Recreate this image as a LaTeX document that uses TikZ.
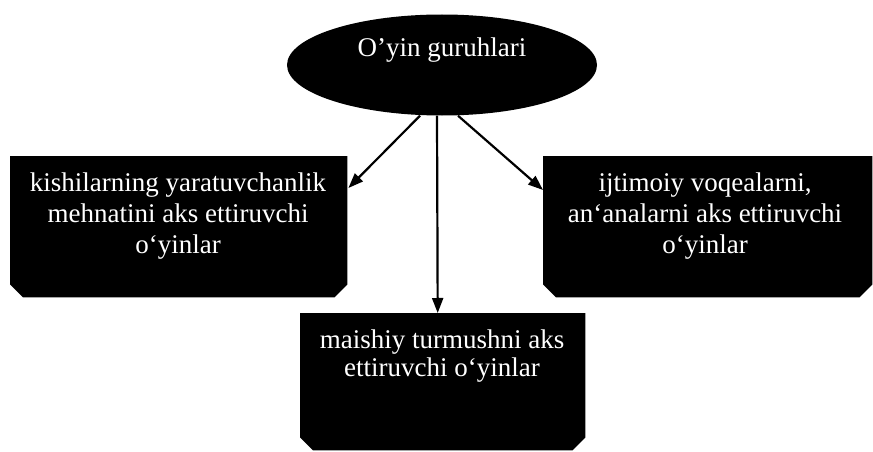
\documentclass[tikz,border=0pt]{standalone}
\usepackage{fontspec}
\setmainfont{Liberation Serif}
\usetikzlibrary{shapes.geometric,arrows.meta}
\tikzset{
  blackbox/.style={rectangle, inner sep=0pt, anchor=north west},
  boxtext/.style={text=white, align=center, font=\fontsize{27}{31}\selectfont, inner sep=0pt},
  arr/.style={draw=black, line width=2.2pt, -{Triangle[length=15pt,width=11pt]}}
}
\newcommand{\chamferfill}[1]{%
  \fill[black] (#1.north west) -- (#1.north east) -- ([yshift=13pt]#1.south east)
    -- ([xshift=-13pt]#1.south east) -- ([xshift=13pt]#1.south west)
    -- ([yshift=13pt]#1.south west) -- cycle;}
\begin{document}
\begin{tikzpicture}[x=1pt,y=-1pt]
\useasboundingbox[fill=white] (0,0) rectangle (873,452);
\node[ellipse, fill=black, minimum width=310pt, minimum height=101pt, inner sep=0pt] (top) at (442,65) {};
\node[boxtext] (toptext) at (442,50) {O’yin guruhlari};
\node[blackbox, minimum width=337pt, minimum height=141pt] (left) at (10,156) {};
\chamferfill{left}
\node[boxtext] (lefttext) at (178,216) {kishilarning yaratuvchanlik\\mehnatini aks ettiruvchi\\o`yinlar};
\node[blackbox, minimum width=329pt, minimum height=141pt] (right) at (543,156) {};
\chamferfill{right}
\node[boxtext] (righttext) at (705,216) {ijtimoiy voqealarni,\\an`analarni aks ettiruvchi\\o`yinlar};
\node[blackbox, minimum width=285pt, minimum height=137pt] (bot) at (300,313) {};
\chamferfill{bot}
\node[boxtext, font=\fontsize{27}{28}\selectfont] (bottext) at (442,356) {maishiy turmushni aks\\ettiruvchi o`yinlar};
\draw[arr] ([xshift=-22pt]top.south) -- ([shift={(1,32)}]left.north east);
\draw[arr] ([xshift=-5pt]top.south) -- ([xshift=-5pt]bot.north);
\draw[arr] ([xshift=16pt]top.south) -- ([shift={(0,34)}]right.north west);
\end{tikzpicture}
\end{document}
